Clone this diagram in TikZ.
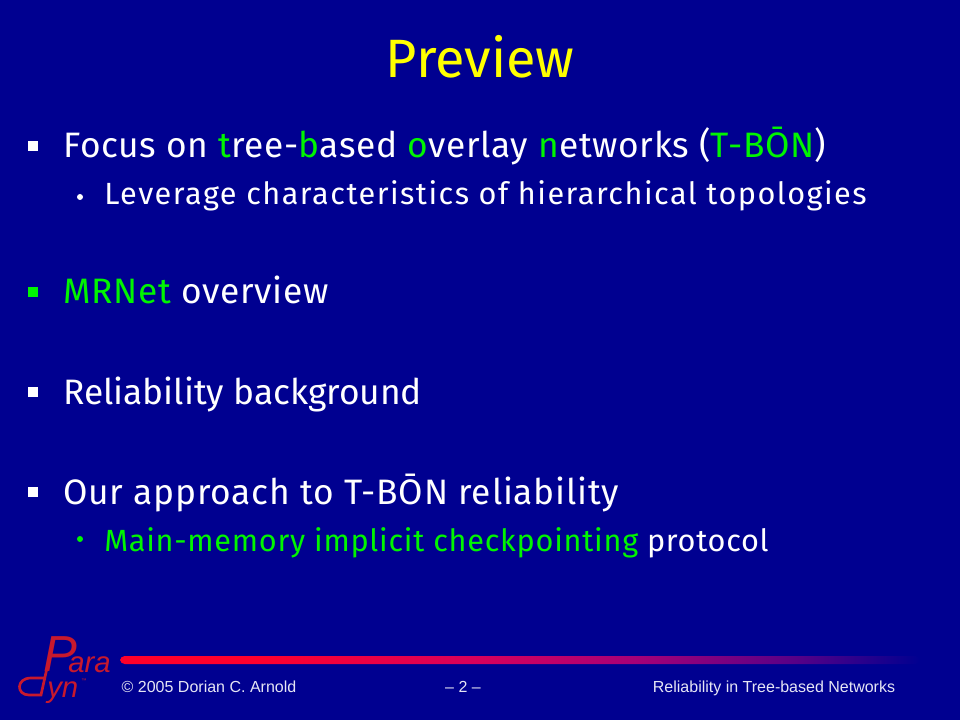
\documentclass[tikz,border=0pt]{standalone}
\usepackage{fontspec}
\setmainfont{Fira Sans}
\newfontfamily\footfont{Liberation Sans}
\usetikzlibrary{positioning}
\definecolor{slidebg}{RGB}{0,0,144}
\definecolor{hilite}{RGB}{0,245,0}
\definecolor{titlecol}{RGB}{255,255,0}
\definecolor{logored}{RGB}{200,25,45}
\pgfdeclarehorizontalshading{barshade}{100bp}{
  rgb(0bp)=(1,0,0.12);
  rgb(33.75bp)=(1,0,0.18);
  rgb(47.2bp)=(0.85,0,0.36);
  rgb(57.2bp)=(0.65,0,0.47);
  rgb(67.25bp)=(0.34,0,0.53);
  rgb(75bp)=(0,0,0.565);
  rgb(100bp)=(0,0,0.565)}
\tikzset{
  line1/.style={anchor=base west,text=white,inner sep=0pt,
    font=\fontsize{26.5}{28}\selectfont\addfontfeature{LetterSpace=#1}},
  line2/.style={anchor=base west,text=white,inner sep=0pt,
    font=\fontsize{23}{26}\selectfont\addfontfeature{LetterSpace=#1}},
  foot/.style={anchor=base,text=white!90!slidebg,font=\footfont\fontsize{12}{14}\selectfont,inner sep=0pt},
  logotxt/.style={anchor=base west,text=logored,inner sep=0pt},
}
\newcommand{\hl}[1]{\textcolor{hilite}{#1}}
\begin{document}
\begin{tikzpicture}[x=0.75pt,y=-0.75pt]
\fill[slidebg] (0,0) rectangle (960,720);
% title
\node[anchor=base,text=titlecol,inner sep=0pt,font=\fontsize{40.5}{44}\selectfont] (title) at (480,78) {Preview};
% bullets
\foreach \y/\c in {146/white,292/hilite,392/white,492/white}
  \fill[\c] (28,\y-5) rectangle +(10,10);
\foreach \y/\c in {197/white,539/hilite}
  \fill[\c] (80,\y) circle (3);
\node[line1=2] (focus) at (63,158) {Focus on \hl{t}ree-\hl{b}ased \hl{o}verlay \hl{n}etworks (\hl{T-BŌN})};
\node[line2=4.8] (lever) at (104,205) {Leverage characteristics of hierarchical topologies};
\node[line1=2] (mrnet) at (63,304) {\hl{MRNet} overview};
\node[line1=0] (relia) at (63,404) {Reliability background};
\node[line1=2.3] (appr) at (63,504) {Our approach to T-BŌN reliability};
\node[line2=2.4] (main) at (104,551) {\hl{Main-memory implicit checkpointing} protocol};
% rule
\shade[shading=barshade,rounded corners=3.5pt] (120,656) rectangle (920,664);
% footer
\node[foot] (copy) at (209,692) {© 2005 Dorian C. Arnold};
\node[foot] (page) at (463,692) {– 2 –};
\node[foot] (run) at (774,692) {Reliability in Tree-based Networks};
% logo
\node[logotxt,font=\footfont\itshape\fontsize{38}{40}\selectfont] (logoP) at (43,671) {P};
\node[logotxt,font=\footfont\itshape\fontsize{22}{25}\selectfont] (logoa) at (68,672) {ara};
\node[logotxt,font=\footfont\itshape\fontsize{22}{25}\selectfont] (logoy) at (47,697) {yn};
\node[logotxt,font=\footfont\fontsize{4}{5}\selectfont] (logotm) at (81,682) {™};
\draw[logored,line width=2pt] (47,668) -- (41,695) -- (29,695) .. controls (16,695) and (16,678) .. (31,678) -- (46,678);
\end{tikzpicture}
\end{document}
